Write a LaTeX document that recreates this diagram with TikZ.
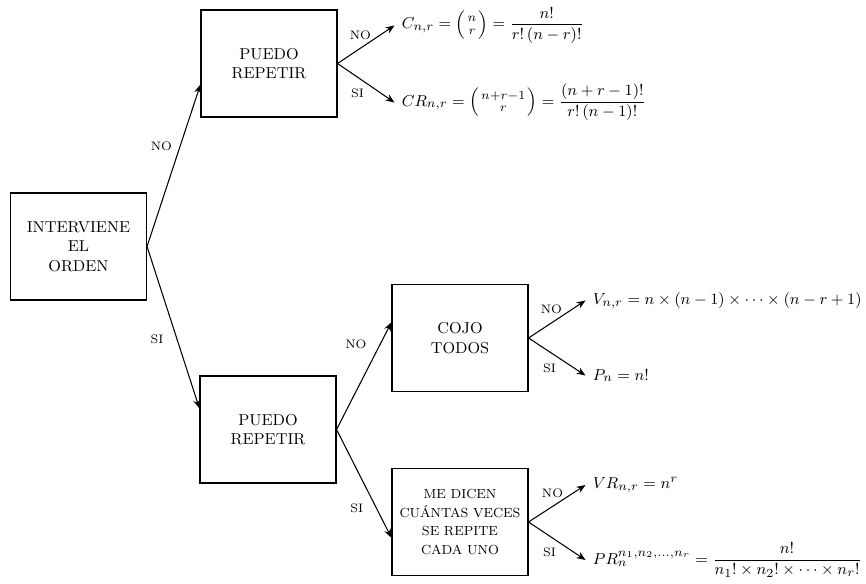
\documentclass[tikz,border=0pt]{standalone}
\usepackage{amsmath}
\usetikzlibrary{arrows.meta, calc}

\newcommand{\cbin}[2]{\Bigl(\genfrac{}{}{0pt}{1}{#1}{#2}\Bigr)}

\begin{document}
\begin{tikzpicture}[
  box/.style={draw, line width=0.6pt, align=center, minimum width=2.72cm,
              minimum height=2.14cm, inner sep=1mm, font=\small},
  res/.style={anchor=west, inner sep=4pt, font=\fontsize{9.4}{11}\selectfont},
  lab/.style={font=\scriptsize},
  arr/.style={-{Stealth[length=1.8mm, width=1.4mm]}, line width=0.6pt}
]
  \useasboundingbox (-1.57,-6.73) rectangle (15.75,4.93);

  % decision boxes
  \node[box] (orden) {INTERVIENE\\EL\\ORDEN};
  \node[box] (repA) at ($(orden)+(3.81,3.66)$) {PUEDO\\REPETIR};
  \node[box] (repB) at ($(orden)+(3.79,-3.66)$) {PUEDO\\REPETIR};
  \node[box] (cojo) at ($(repB)+(3.84,1.83)$) {COJO\\TODOS};
  \node[box, font=\fontsize{7.5}{10.5}\selectfont] (veces) at ($(repB)+(3.84,-1.85)$)
       {ME DICEN\\CUÁNTAS VECES\\SE REPITE\\CADA UNO};

  % results
  \node[res] (comb)  at ($(repA.east)+(1.14,0.76)$)
       {$C_{n,r}=\cbin{n}{r}=\dfrac{n!}{r!\,(n-r)!}$};
  \node[res] (combr) at ($(repA.east)+(1.14,-0.78)$)
       {$CR_{n,r}=\cbin{n+r-1}{r}=\dfrac{(n+r-1)!}{r!\,(n-1)!}$};
  \node[res] (var)   at ($(cojo.east)+(1.14,0.75)$)
       {$V_{n,r}=n\times(n-1)\times\cdots\times(n-r+1)$};
  \node[res] (perm)  at ($(cojo.east)+(1.14,-0.75)$) {$P_n=n!$};
  \node[res] (varr)  at ($(veces.east)+(1.14,0.74)$) {$VR_{n,r}=n^r$};
  \node[res] (permr) at ($(veces.east)+(1.14,-0.76)$)
       {$PR_n^{n_1,n_2,\ldots,n_r}=\dfrac{n!}{n_1!\times n_2!\times\cdots\times n_r!}$};

  % tree edges
  \draw[arr] (orden.east) -- node[lab, pos=.62, left=1pt] {NO} (repA.197);
  \draw[arr] (orden.east) -- node[lab, pos=.57, left=4pt] {SI} (repB.163);
  \draw[arr] (repB.east)  -- node[lab, pos=.79, left=4pt] {NO} (cojo.167);
  \draw[arr] (repB.east)  -- node[lab, pos=.73, left=4pt] {SI} (veces.193);

  \draw[arr] (repA.east)  -- node[lab, pos=.4, above=1.5pt] {NO} (comb.west);
  \draw[arr] (repA.east)  -- node[lab, pos=.35, below=3pt] {SI} (combr.west);
  \draw[arr] (cojo.east)  -- node[lab, pos=.4, above=1.5pt] {NO} (var.west);
  \draw[arr] (cojo.east)  -- node[lab, pos=.37, below=3pt] {SI} (perm.west);
  \draw[arr] (veces.east) -- node[lab, pos=.42, above=1.5pt] {NO} (varr.west);
  \draw[arr] (veces.east) -- node[lab, pos=.37, below=3pt] {SI} (permr.west);
\end{tikzpicture}
\end{document}
